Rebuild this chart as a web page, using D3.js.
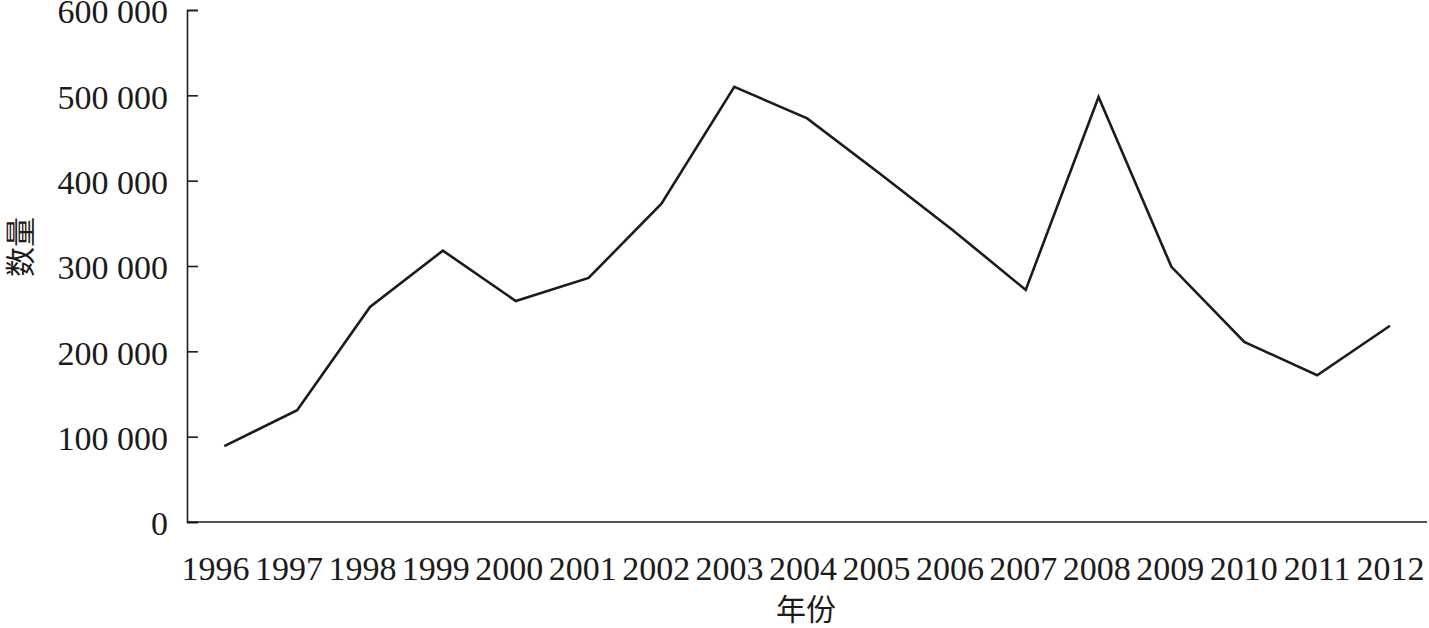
<!DOCTYPE html>
<html>
<head>
<meta charset="utf-8">
<script src="https://cdn.jsdelivr.net/npm/d3@7"></script>
<style>
  html, body { margin: 0; padding: 0; background: #fff; }
  svg { display: block; }
</style>
</head>
<body>
<svg id="chart" width="1429" height="628"></svg>
<script>
const years = [1996, 1997, 1998, 1999, 2000, 2001, 2002, 2003, 2004, 2005, 2006, 2007, 2008, 2009, 2010, 2011, 2012];
const counts = [89000, 131000, 252000, 318000, 259000, 286000, 373000, 510000, 473000, 408000, 342000, 272000, 498000, 299000, 211000, 172000, 230000];
const yTicks = [0, 100000, 200000, 300000, 400000, 500000, 600000];
const xTitle = "年份";
const yTitle = "数量";

const svg = d3.select("#chart");
const ink = "#1e1a1b";
const serif = "'Liberation Serif', 'Times New Roman', serif";
const cjk = "'Noto Sans CJK SC', sans-serif";

const axisLeftX = 187, axisRightX = 1427;
const y0 = 522, yTop = 10;

const x = d3.scalePoint().domain(years).range([224.3, 1390]);
const xLab = d3.scalePoint().domain(years).range([215, 1390]);
const y = d3.scaleLinear().domain([0, 600000]).range([y0, yTop]);

const fmt = v => d3.format(",")(v).replace(/,/g, " ");

// Y axis
const yAxis = svg.append("g")
  .attr("transform", `translate(${axisLeftX},0)`)
  .call(d3.axisLeft(y).tickValues(yTicks).tickFormat(fmt).tickSize(-11).tickPadding(19));
yAxis.select(".domain").attr("stroke", ink).attr("stroke-width", 1.6);
yAxis.selectAll(".tick line").attr("stroke", ink).attr("stroke-width", 1.6);
yAxis.selectAll(".tick text")
  .attr("fill", ink).attr("font-family", serif).attr("font-size", 34)
  .attr("dy", "0.38em");

// X axis
const xAxis = svg.append("g")
  .attr("transform", `translate(0,${y0})`)
  .call(d3.axisBottom(xLab).tickSize(0).tickPadding(34));
xAxis.select(".domain").remove();
svg.append("line")
  .attr("x1", axisLeftX).attr("x2", axisRightX)
  .attr("y1", y0).attr("y2", y0)
  .attr("stroke", ink).attr("stroke-width", 1.6);
xAxis.selectAll(".tick text")
  .attr("fill", ink).attr("font-family", serif).attr("font-size", 34)
  .attr("dy", "0.71em");

// Line
const line = d3.line().x((d, i) => x(years[i])).y(d => y(d));
svg.append("path")
  .datum(counts)
  .attr("d", line)
  .attr("fill", "none")
  .attr("stroke", ink)
  .attr("stroke-width", 2.6)
  .attr("stroke-linejoin", "miter");

// Titles
svg.append("text")
  .attr("x", 806).attr("y", 607)
  .attr("text-anchor", "middle").attr("dominant-baseline", "central")
  .attr("font-family", cjk).attr("font-size", 30).attr("fill", ink)
  .text(xTitle);

svg.append("text")
  .attr("transform", "translate(18,247) rotate(-90)")
  .attr("text-anchor", "middle").attr("dominant-baseline", "central")
  .attr("font-family", cjk).attr("font-size", 30).attr("fill", ink)
  .text(yTitle);
</script>
</body>
</html>
